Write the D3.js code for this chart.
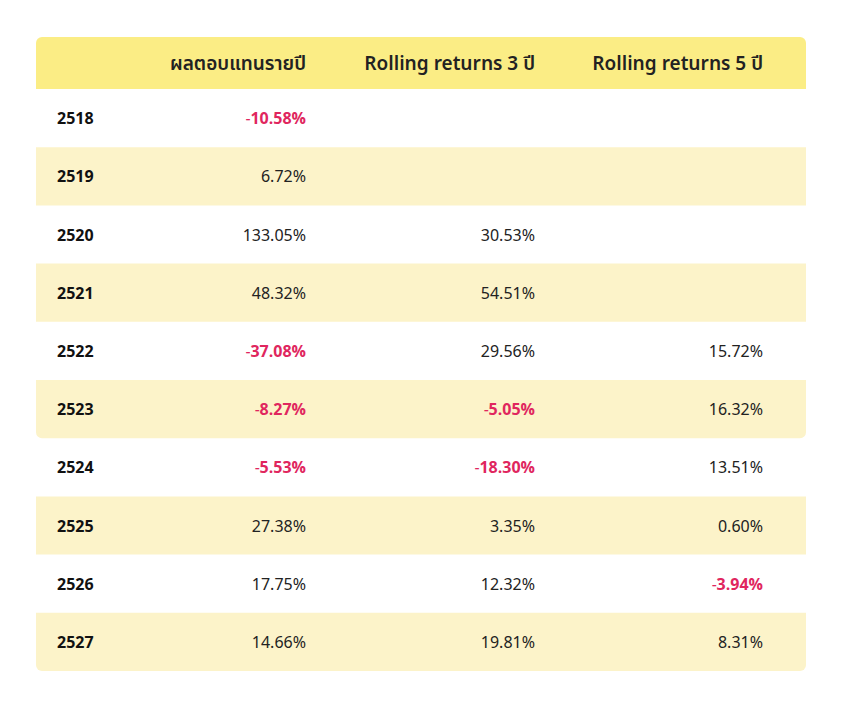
<!DOCTYPE html>
<html><head><meta charset="utf-8">
<script src="https://cdn.jsdelivr.net/npm/d3@7"></script>
<style>body{margin:0;background:#fff;}</style>
</head><body>
<script>
var headers = ["", "ผลตอบแทนรายปี", "Rolling returns 3 ปี", "Rolling returns 5 ปี"];
var years = ["2518","2519","2520","2521","2522","2523","2524","2525","2526","2527"];
var annual = [-10.58, 6.72, 133.05, 48.32, -37.08, -8.27, -5.53, 27.38, 17.75, 14.66];
var roll3 = [null, null, 30.53, 54.51, 29.56, -5.05, -18.30, 3.35, 12.32, 19.81];
var roll5 = [null, null, null, null, 15.72, 16.32, 13.51, 0.60, -3.94, 8.31];

(function() {
var W = 845, H = 713, left0 = 36, right0 = 806, top0 = 37, headH = 52, rowH = 58.2;
var svg = d3.select("body").append("svg").attr("width", W).attr("height", H);
var font = "'Noto Sans Thai','Noto Sans','Liberation Sans',sans-serif";

var y = d3.scaleBand().domain(years).range([top0 + headH, top0 + headH + rowH * years.length]);
var colX = [57, 306, 535, 763];

function roundedRect(y0, h, rTop, rBot, fill) {
  var r = 6, x0 = left0, x1 = right0, y1 = y0 + h;
  var p = d3.path();
  p.moveTo(x0 + (rTop ? r : 0), y0);
  p.lineTo(x1 - (rTop ? r : 0), y0);
  if (rTop) p.arcTo(x1, y0, x1, y0 + r, r);
  p.lineTo(x1, y1 - (rBot ? r : 0));
  if (rBot) p.arcTo(x1, y1, x1 - r, y1, r);
  p.lineTo(x0 + (rBot ? r : 0), y1);
  if (rBot) p.arcTo(x0, y1, x0, y1 - r, r);
  p.lineTo(x0, y0 + (rTop ? r : 0));
  if (rTop) p.arcTo(x0, y0, x0 + r, y0, r);
  p.closePath();
  svg.append("path").attr("d", p.toString()).attr("fill", fill);
}

roundedRect(top0, headH, true, false, "#FBED85");
years.forEach(function(yr, i) {
  if (i % 2 === 1) roundedRect(y(yr), y.bandwidth(), false, i === 5 || i === 9, "#FCF3C9");
});

headers.forEach(function(h, i) {
  if (!h) return;
  svg.append("text").attr("x", colX[i]).attr("y", top0 + headH / 2 + 7)
    .attr("text-anchor", "end").attr("font-family", font).attr("font-size", 19)
    .attr("font-weight", 600).attr("fill", "#222").text(h);
});

var cols = [annual, roll3, roll5];
years.forEach(function(yr, i) {
  var cy = y(yr) + y.bandwidth() / 2 + 6;
  svg.append("text").attr("x", colX[0]).attr("y", cy).attr("font-family", font)
    .attr("font-size", 16).attr("font-weight", 700).attr("fill", "#111").text(yr);
  cols.forEach(function(arr, c) {
    var v = arr[i];
    if (v == null) return;
    var neg = v < 0;
    var t = svg.append("text").attr("x", colX[c + 1]).attr("y", cy).attr("text-anchor", "end")
      .attr("font-family", font).attr("font-size", 16)
      .attr("font-weight", neg ? 700 : 400).attr("fill", neg ? "#E0265E" : "#222");
    if (neg) {
      t.append("tspan").attr("font-weight", 400).text("\u2212");
      t.append("tspan").text(Math.abs(v).toFixed(2) + "%");
    } else t.text(v.toFixed(2) + "%");
  });
});
})();
</script>
</body></html>
